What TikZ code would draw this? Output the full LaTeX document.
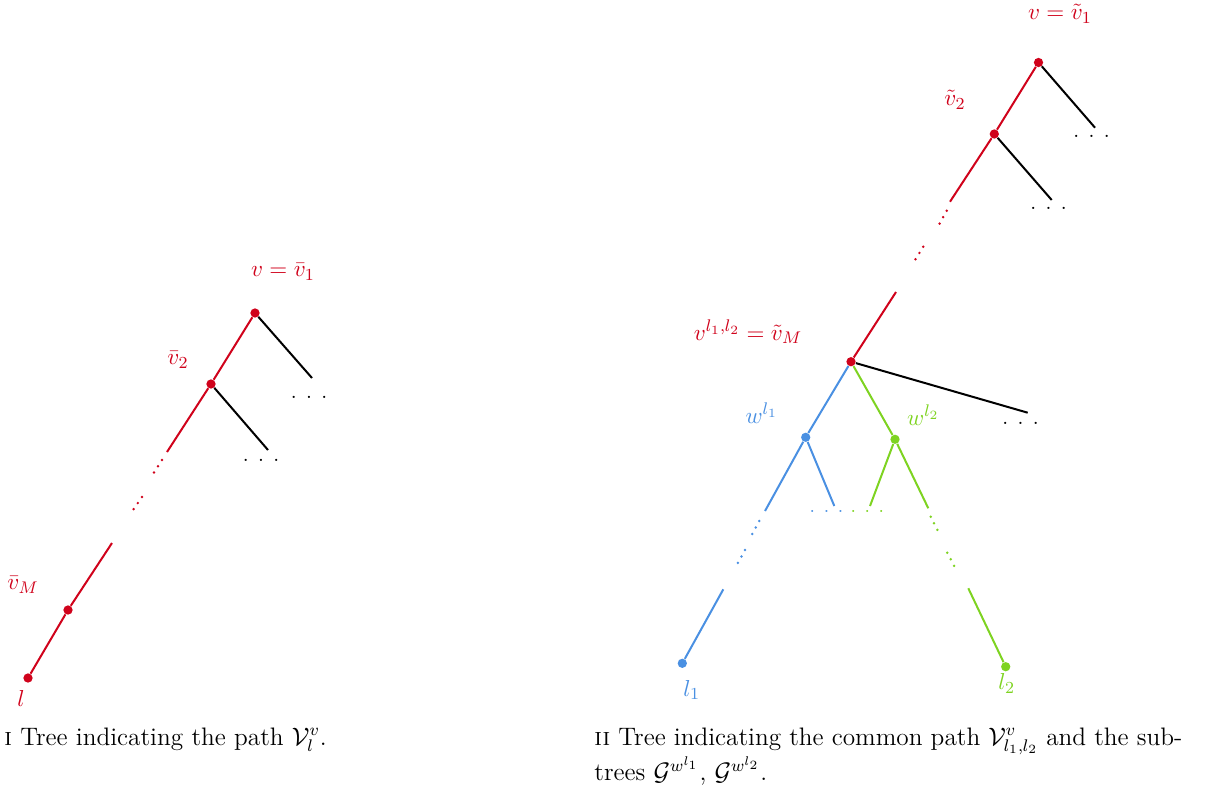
\documentclass[tikz,border=0pt]{standalone}
\usepackage{amsmath,amssymb}
\usepackage{tikz}
\usetikzlibrary{positioning}
\definecolor{pathred}{HTML}{D0021B}
\definecolor{subblue}{HTML}{4A90E2}
\definecolor{subgreen}{HTML}{7ED321}

\begin{document}
\begin{tikzpicture}[
  x=0.4746pt, y=-0.4746pt,
  vtx/.style={circle, fill, inner sep=0pt, minimum size=4.4pt},
  lbl/.style={font=\fontsize{11.3}{13}\selectfont, inner sep=0pt},
  edge/.style={line width=0.95pt},
  gap/.style={line width=1.3pt, line cap=round, dash pattern=on 0pt off 3.5pt},
  more/.style={inner sep=0pt},
  submore/.style={more, font=\fontsize{9}{10}\selectfont},
  capt/.style={anchor=base west, inner sep=0pt, font=\fontsize{12}{15.7}\selectfont}
]
\useasboundingbox (0,0) rectangle (1207,791);

\node[vtx, pathred] (a1) at (255,313) {};
\node[vtx, pathred] (a2) at (211,384) {};
\node[vtx, pathred] (aM) at (68,610) {};
\node[vtx, pathred] (al) at (28,678) {};
\coordinate (a2s) at (167,452);
\coordinate (ag1) at (162,460);
\coordinate (ag1e) at (153,474);
\coordinate (ag2) at (142,497);
\coordinate (ag2e) at (133,510);
\coordinate (aMs) at (112,543);
\coordinate (a1e) at (312,378);
\coordinate (a2e) at (268,450);
\node[more] (a1m) at (309,397) {. . .};
\node[more] (a2m) at (261,460) {. . .};
\node[lbl, pathred] (a1l) at (283,272) {$v=\bar{v}_1$};
\node[lbl, pathred] (a2l) at (178,360) {$\bar{v}_2$};
\node[lbl, pathred] (aMl) at (23,585) {$\bar{v}_M$};
\node[lbl, pathred] (all) at (21,698) {$l$};
\draw[edge, pathred] (a1) -- (a2) -- (a2s);
\draw[gap, pathred] (ag1) -- (ag1e);
\draw[gap, pathred] (ag2) -- (ag2e);
\draw[edge, pathred] (aMs) -- (aM) -- (al);
\draw[edge] (a1) -- (a1e);
\draw[edge] (a2) -- (a2e);

\node[vtx, pathred] (b1) at (1038.5,62.5) {};
\node[vtx, pathred] (b2) at (994.3,134) {};
\node[vtx, pathred] (bM) at (851,361.7) {};
\node[vtx, subblue] (w1) at (805.7,437.3) {};
\node[vtx, subgreen] (w2) at (895,439.3) {};
\node[vtx, subblue] (l1) at (682.3,663.3) {};
\node[vtx, subgreen] (l2) at (1005.7,666.7) {};
\coordinate (b2s) at (950,201.7);
\coordinate (bg1) at (946.7,210.7);
\coordinate (bg1e) at (939.3,224);
\coordinate (bg2) at (923.3,246.7);
\coordinate (bg2e) at (915,260);
\coordinate (bMs) at (896,292);
\coordinate (b1e) at (1095,127.7);
\coordinate (b2e) at (1051.7,200);
\coordinate (bMe) at (1027.7,412.7);
\coordinate (w1s) at (765,511);
\coordinate (w1g1) at (759.3,521);
\coordinate (w1g1e) at (751.7,535);
\coordinate (w1g2) at (745,550);
\coordinate (w1g2e) at (737.3,564);
\coordinate (l1s) at (723.3,589.3);
\coordinate (w1e) at (834.3,506);
\coordinate (w2s) at (928.3,508.3);
\coordinate (w2g1) at (930.7,516.7);
\coordinate (w2g1e) at (938.3,531.7);
\coordinate (w2g2) at (947.3,552.7);
\coordinate (w2g2e) at (955,567.7);
\coordinate (l2s) at (968.3,588.3);
\coordinate (w2e) at (870,506);
\node[more] (b1m) at (1091.5,136) {. . .};
\node[more] (b2m) at (1048.5,208) {. . .};
\node[more] (bMm) at (1020.5,423) {. . .};
\node[submore, subblue] (w1m) at (826.5,511.7) {. . .};
\node[submore, subgreen] (w2m) at (867.3,511.7) {. . .};
\node[lbl, pathred] (b1l) at (1060,14) {$v=\tilde{v}_1$};
\node[lbl, pathred] (b2l) at (955,100) {$\tilde{v}_2$};
\node[lbl, pathred] (bMl) at (748,332) {$v^{l_1,l_2}=\tilde{v}_M$};
\node[lbl, subblue] (w1l) at (761.7,413) {$w^{l_1}$};
\node[lbl, subgreen] (w2l) at (923.3,415) {$w^{l_2}$};
\node[lbl, subblue] (l1l) at (691.7,690) {$l_1$};
\node[lbl, subgreen] (l2l) at (1006.7,683.3) {$l_2$};
\draw[edge, pathred] (b1) -- (b2) -- (b2s);
\draw[gap, pathred] (bg1) -- (bg1e);
\draw[gap, pathred] (bg2) -- (bg2e);
\draw[edge, pathred] (bMs) -- (bM);
\draw[edge] (b1) -- (b1e);
\draw[edge] (b2) -- (b2e);
\draw[edge] (bM) -- (bMe);
\draw[edge, subblue] (bM) -- (w1) -- (w1s);
\draw[gap, subblue] (w1g1) -- (w1g1e);
\draw[gap, subblue] (w1g2) -- (w1g2e);
\draw[edge, subblue] (l1s) -- (l1);
\draw[edge, subblue] (w1) -- (w1e);
\draw[edge, subgreen] (bM) -- (w2) -- (w2s);
\draw[gap, subgreen] (w2g1) -- (w2g1e);
\draw[gap, subgreen] (w2g2) -- (w2g2e);
\draw[edge, subgreen] (l2s) -- (l2);
\draw[edge, subgreen] (w2) -- (w2e);

\node[capt] (capI) at (4,745) {\textsc{i} Tree indicating the path $\mathcal{V}_l^v$.};
\node[capt, text width=279pt, align=justify] (capII) at (594,745) {\textsc{ii} Tree indicating the common path $\mathcal{V}_{l_1,l_2}^v$ and the sub-\linebreak trees $\mathcal{G}^{w^{l_1}}$, $\mathcal{G}^{w^{l_2}}$.};
\end{tikzpicture}
\end{document}
